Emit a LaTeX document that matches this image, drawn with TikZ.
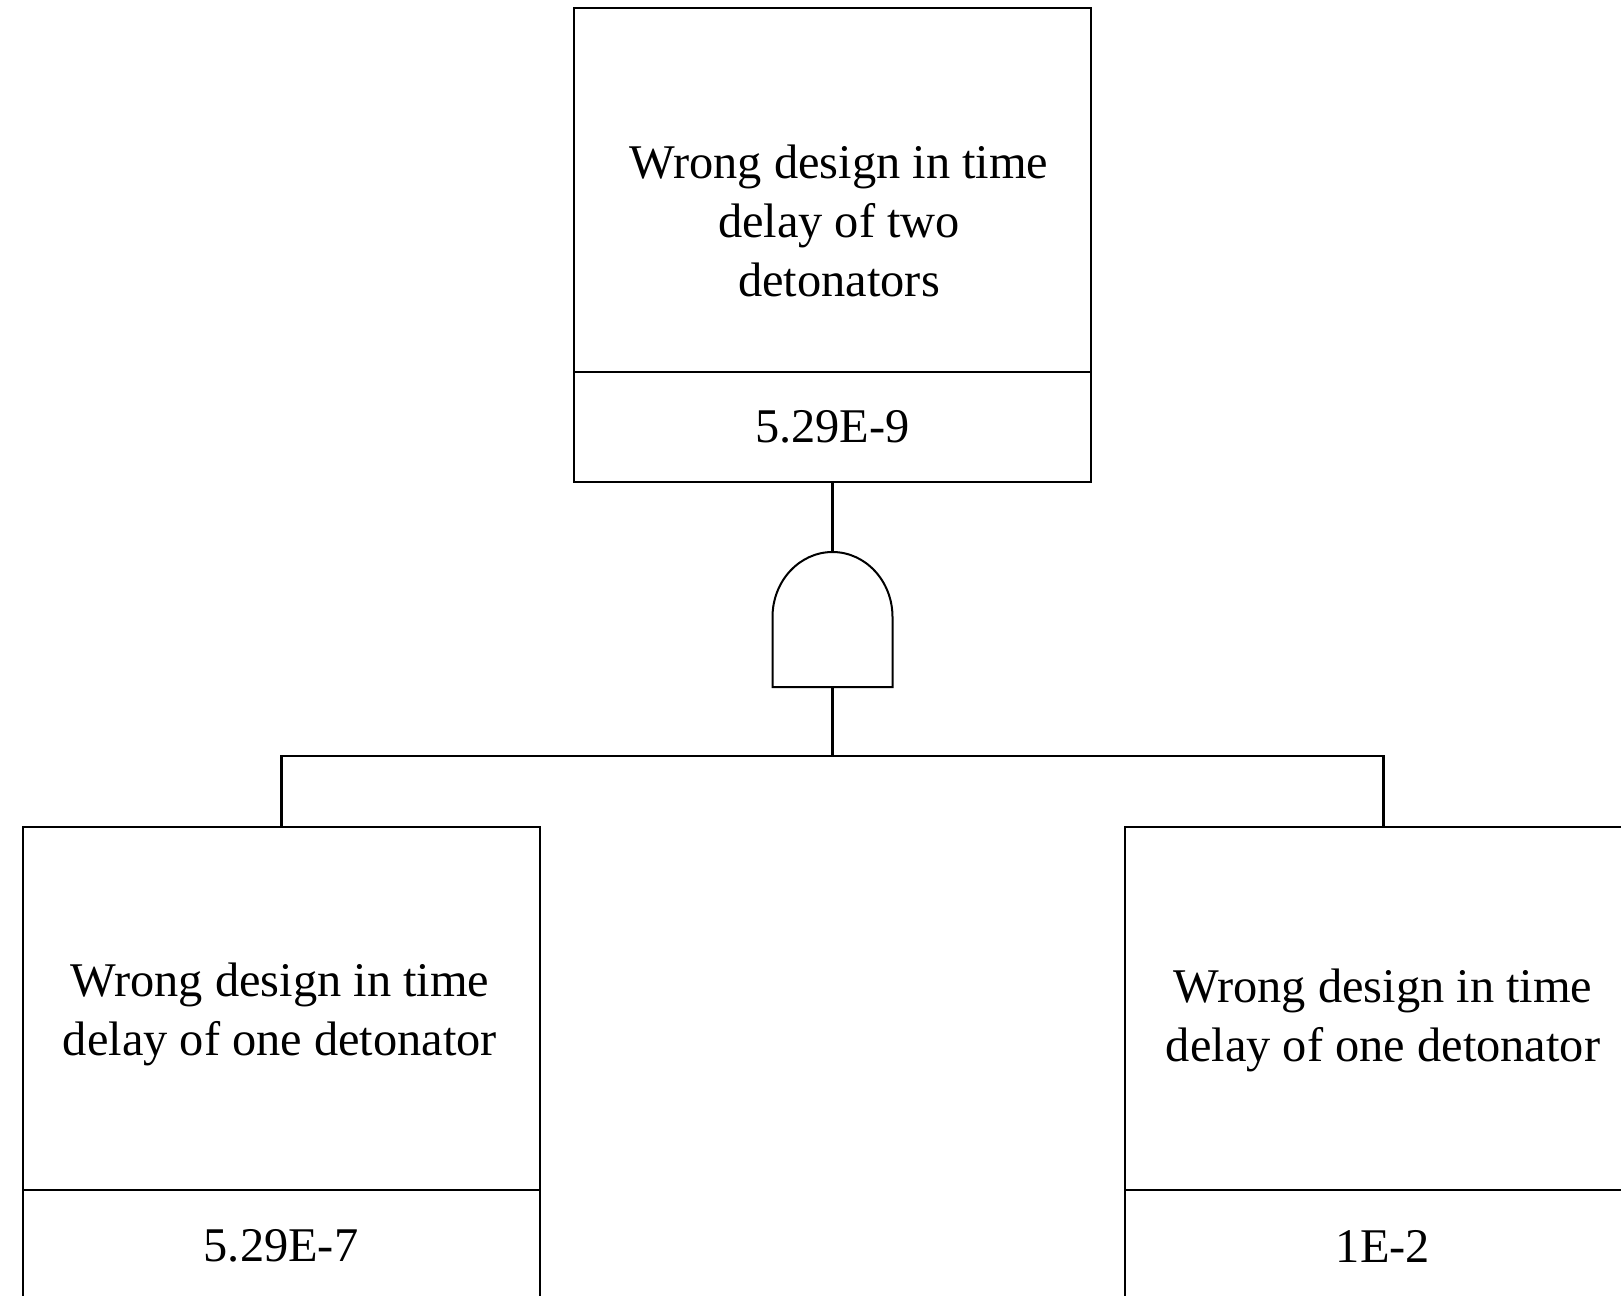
\documentclass[tikz,border=0pt]{standalone}
\usepackage{fontspec}
\setmainfont{Liberation Serif}
\begin{document}
\begin{tikzpicture}[x=1pt,y=-1pt,
  box/.style={draw, line width=2pt, inner sep=0pt, outer sep=0pt, anchor=north west, minimum width=517pt, minimum height=474pt},
  divider/.style={line width=2pt},
  lbl/.style={font=\fontsize{48.4}{59}\selectfont, align=center, inner sep=0pt},
  wire/.style={line width=2.3pt},
  gatestyle/.style={line width=2pt}]
\useasboundingbox (0,0) rectangle (1621,1295);

% boxes
\node[box] (top) at (574,8) {};
\draw[divider] (574,372) -- (1091,372);
\node[lbl] (toptext) at (839,221) {Wrong design in time\\delay of two\\detonators};
\node[lbl] (topval) at (832.5,427) {5.29E-9};

\node[box] (lb) at (23,827) {};
\draw[divider] (23,1190) -- (540,1190);
\node[lbl] (lbtext) at (280,1014) {Wrong design in time\\delay of one detonator};
\node[lbl] (lbval) at (281,1246) {5.29E-7};

\node[box] (rb) at (1125,827) {};
\draw[divider] (1125,1190) -- (1642,1190);
\node[lbl] (rbtext) at (1383,1020) {Wrong design in time\\delay of one detonator};
\node[lbl] (rbval) at (1383,1246) {1E-2};

% AND gate
\coordinate (gtop) at (832.5,552);
\coordinate (gbot) at (832.5,687);
\draw[gatestyle] (gbot) -- (772.5,687) -- (772.5,617)
  .. controls (772.5,581) and (799.5,552) .. (gtop)
  .. controls (865.5,552) and (892.5,581) .. (892.5,617) -- (892.5,687) -- cycle;

% connectors
\draw[wire] (top.south) -- (gtop);
\draw[wire] (gbot) -- (832.5,756) coordinate (bar);
\draw[wire] (lb.north) |- (bar) -| (rb.north);
\end{tikzpicture}
\end{document}
